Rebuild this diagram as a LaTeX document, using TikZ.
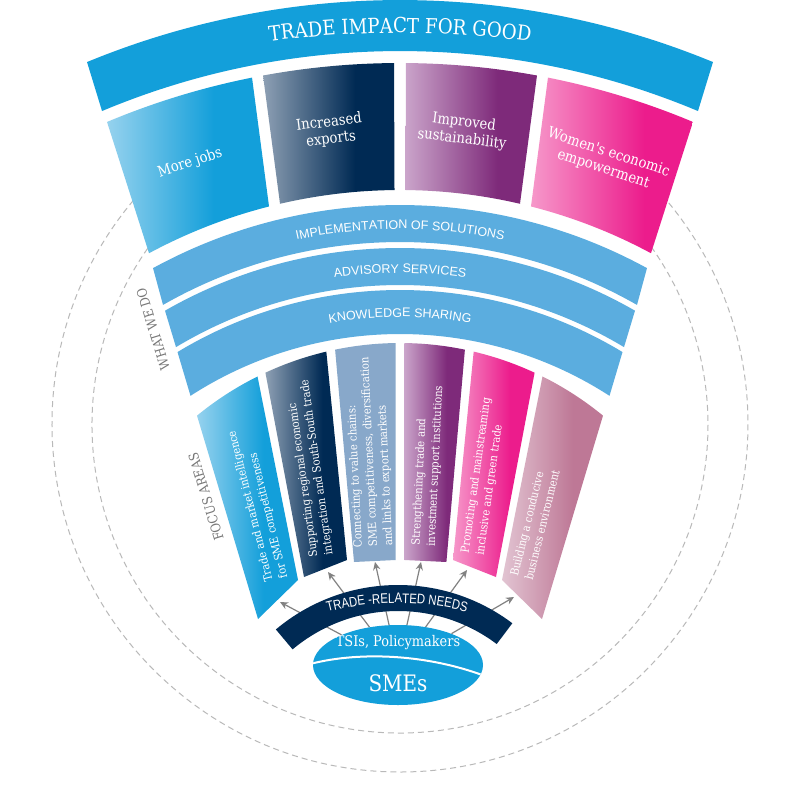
\documentclass[tikz,border=0pt]{standalone}
\usepackage{fontspec}
\setmainfont{DejaVu Serif}
\newfontfamily\slab[FakeStretch=0.88]{DejaVu Serif}
\newfontfamily\sansf{Liberation Sans}
\newfontfamily\sansn[FakeStretch=0.82]{Liberation Sans}
\usetikzlibrary{arrows.meta,calc,decorations.text,shapes.geometric}

\definecolor{cyanM}{RGB}{19,159,218}
\definecolor{cyanL}{RGB}{150,210,238}
\definecolor{navyM}{RGB}{0,42,84}
\definecolor{navyL}{RGB}{142,160,180}
\definecolor{purpM}{RGB}{126,42,122}
\definecolor{purpL}{RGB}{202,164,202}
\definecolor{magM}{RGB}{236,28,140}
\definecolor{magL}{RGB}{246,152,202}
\definecolor{steelM}{RGB}{136,168,202}
\definecolor{roseM}{RGB}{190,120,150}
\definecolor{roseL}{RGB}{226,196,210}
\definecolor{bandB}{RGB}{91,173,223}
\definecolor{dashG}{RGB}{185,185,185}
\definecolor{textG}{RGB}{120,120,120}
\definecolor{arrG}{RGB}{130,130,130}

\pgfdeclarehorizontalshading{gCyan}{100bp}{color(0bp)=(cyanL); color(25bp)=(cyanL); color(58bp)=(cyanM); color(100bp)=(cyanM)}
\pgfdeclarehorizontalshading{gNavy}{100bp}{color(0bp)=(navyL); color(25bp)=(navyL); color(60bp)=(navyM); color(100bp)=(navyM)}
\pgfdeclarehorizontalshading{gPurp}{100bp}{color(0bp)=(purpL); color(25bp)=(purpL); color(60bp)=(purpM); color(100bp)=(purpM)}
\pgfdeclarehorizontalshading{gMag}{100bp}{color(0bp)=(magL); color(25bp)=(magL); color(60bp)=(magM); color(100bp)=(magM)}
\pgfdeclarehorizontalshading{gRose}{100bp}{color(0bp)=(roseL); color(25bp)=(roseL); color(60bp)=(roseM); color(100bp)=(roseM)}

% annular piece: style, top cy, top r, top xL, top xR, bottom cy, bottom r, bottom xL, bottom xR
\newcommand\annsec[9]{%
  \pgfmathsetmacro\myTA{-90+asin((#4-400)/#3)}%
  \pgfmathsetmacro\myTB{-90+asin((#5-400)/#3)}%
  \pgfmathsetmacro\myTC{-90+asin((#9-400)/#7)}%
  \pgfmathsetmacro\myTD{-90+asin((#8-400)/#7)}%
  \path[#1] ([shift={(400,#2)}]\myTA:#3) arc[start angle=\myTA,end angle=\myTB,radius=#3]
    -- ([shift={(400,#6)}]\myTC:#7) arc[start angle=\myTC,end angle=\myTD,radius=#7] -- cycle;}
% focus bar: style, top xL, top xR, bottom-right, bottom-left
\newcommand\barshape[5]{%
  \pgfmathsetmacro\myTA{-90+asin((#2-400)/320)}%
  \pgfmathsetmacro\myTB{-90+asin((#3-400)/320)}%
  \path[#1] ([shift={(400,663)}]\myTA:320) arc[start angle=\myTA,end angle=\myTB,radius=320]
    -- (#4) -- (#5) -- cycle;}

\tikzset{
  boxtext/.style={text=white, align=center, inner sep=0pt, font=\slab\fontsize{11.2}{12.8}\selectfont},
  bartext/.style={text=white, align=left, anchor=west, inner sep=0pt, font=\slab\fontsize{8.6}{11.4}\selectfont},
  sidelabel/.style={text=textG, inner sep=0pt, font=\slab\fontsize{10}{12}\selectfont},
  dashcirc/.style={draw=dashG, line width=0.75pt, dash pattern=on 4.5pt off 3pt},
  needarrow/.style={draw=arrG, line width=0.9pt, -{Stealth[length=6pt,width=5.5pt]}},
}

\begin{document}
\begin{tikzpicture}[x=0.75pt,y=-0.75pt]
\useasboundingbox (0,0) rectangle (795,788);
\fill[white] (0,0) rectangle (795,788);

% dashed circles
\draw[dashcirc] ([shift={(400,424)}]220:348) arc[start angle=220,end angle=-40,radius=348];
\draw[dashcirc] ([shift={(400,425)}]215:308) arc[start angle=215,end angle=-35,radius=308];

% banner
\annsec{fill=cyanM}{821}{821}{87}{713}{821}{770}{102}{698}
\path[decorate, decoration={text along path, text align=center,
  text={|\slab\fontsize{15.5}{18}\selectfont\color{white}|TRADE IMPACT FOR GOOD}}]
  ([shift={(400,1050)}]-100:1017) arc[start angle=-100,end angle=-80,radius=1017];

% outcome boxes
\annsec{shading=gCyan}{821}{758}{107}{252}{720}{530}{149}{269}
\annsec{shading=gNavy}{821}{758}{263}{394}{720}{530}{280}{394.5}
\annsec{shading=gPurp}{821}{758}{406}{537}{720}{530}{405.5}{520}
\annsec{shading=gMag}{821}{758}{548}{693}{720}{530}{531}{651}
\node[boxtext, rotate=18] (tJobs) at (190,163) {More jobs};
\node[boxtext, rotate=7] (tExp) at (330,131) {Increased\\exports};
\node[boxtext, rotate=-7] (tSus) at (463,131) {Improved\\sustainability};
\node[boxtext, rotate=-18] (tWom) at (606,161) {Women's economic\\empowerment};

% what we do bands
\annsec{fill=bandB}{720}{515}{153}{647}{720}{478}{163}{637}
\annsec{fill=bandB}{720}{472}{165}{635}{720}{435}{176}{624}
\annsec{fill=bandB}{720}{430}{177.5}{622.5}{720}{386}{190.5}{609.5}
\path[decorate, decoration={text along path, text align=center,
  text={|\sansf\fontsize{9.4}{11}\selectfont\color{white}|IMPLEMENTATION OF SOLUTIONS}}]
  ([shift={(400,720)}]-120:491) arc[start angle=-120,end angle=-60,radius=491];
\path[decorate, decoration={text along path, text align=center,
  text={|\sansf\fontsize{9.4}{11}\selectfont\color{white}|ADVISORY SERVICES}}]
  ([shift={(400,720)}]-120:447) arc[start angle=-120,end angle=-60,radius=447];
\path[decorate, decoration={text along path, text align=center,
  text={|\sansf\fontsize{9.4}{11}\selectfont\color{white}|KNOWLEDGE SHARING}}]
  ([shift={(400,720)}]-120:403) arc[start angle=-120,end angle=-60,radius=403];

% focus area bars
\barshape{shading=gCyan}{197}{257.5}{298,580}{258,619}
\barshape{shading=gNavy}{265.4}{326.3}{347,560}{304,577}
\barshape{fill=steelM}{335.1}{395.5}{395.5,560}{354,562}
\barshape{shading=gPurp}{404.5}{464.9}{446.4,562}{404.5,560}
\barshape{shading=gMag}{473.7}{534.6}{496,577}{453,560}
\barshape{shading=gRose}{542.5}{603}{542,619}{502,580}

\node[bartext, rotate=104] (f1) at (277,580) {Trade and market intelligence\\for SME competitiveness};
\node[bartext, rotate=98] (f2) at (322,556) {Supporting regional economic\\integration and South-South trade};
\node[bartext, rotate=92.7] (f3) at (374,547) {Connecting to value chains:\\SME competitiveness, diversification\\and links to export markets};
\node[bartext, rotate=87.3] (f4) at (424,546) {Strengthening trade and\\investment support institutions};
\node[bartext, rotate=82] (f5) at (473,554) {Promoting and mainstreaming\\inclusive and green trade};
\node[bartext, rotate=76] (f6) at (521,578) {Building a conducive\\business environment};

% side labels
\node[sidelabel, rotate=107] (wwd) at (153,329) {WHAT WE DO};
\node[sidelabel, rotate=107] (fa) at (206,497) {FOCUS AREAS};

% SMEs ellipse and arrows
\node[ellipse, fill=cyanM, minimum width=127.5pt, minimum height=60pt, inner sep=0pt] (sme) at (398,665) {};
\coordinate (t1) at (280,602);
\coordinate (t2) at (328,572);
\coordinate (t3) at (375,562);
\coordinate (t4) at (421,562);
\coordinate (t5) at (467,570);
\coordinate (t6) at (514,597);
\foreach \k in {1,...,6} \draw[needarrow] (sme) -- (t\k);

% trade-related needs arc
\fill[navyM] ([shift={(398,775)}]-130:190) arc[start angle=-130,end angle=-53,radius=190]
  -- ([shift={(398,775)}]-53:164) arc[start angle=-53,end angle=-130,radius=164] -- cycle;
\path[decorate, decoration={text along path, text align=center,
  text={|\sansn\fontsize{10.4}{12}\selectfont\color{white}|TRADE -RELATED NEEDS}}]
  ([shift={(397,880)}]-112:277) arc[start angle=-112,end angle=-68,radius=277];

\begin{scope}
  \clip (398,665) ellipse [x radius=85, y radius=40];
  \draw[white, line width=1.5pt] (310,664) .. controls (360,651) and (430,654) .. (490,678);
\end{scope}
\node[text=white, inner sep=0pt, font=\slab\fontsize{11}{13}\selectfont] (tsi) at (398,643) {TSIs, Policymakers};
\node[text=white, inner sep=0pt, font=\slab\fontsize{17}{20}\selectfont] (smes) at (398,683) {SMEs};
\end{tikzpicture}
\end{document}
